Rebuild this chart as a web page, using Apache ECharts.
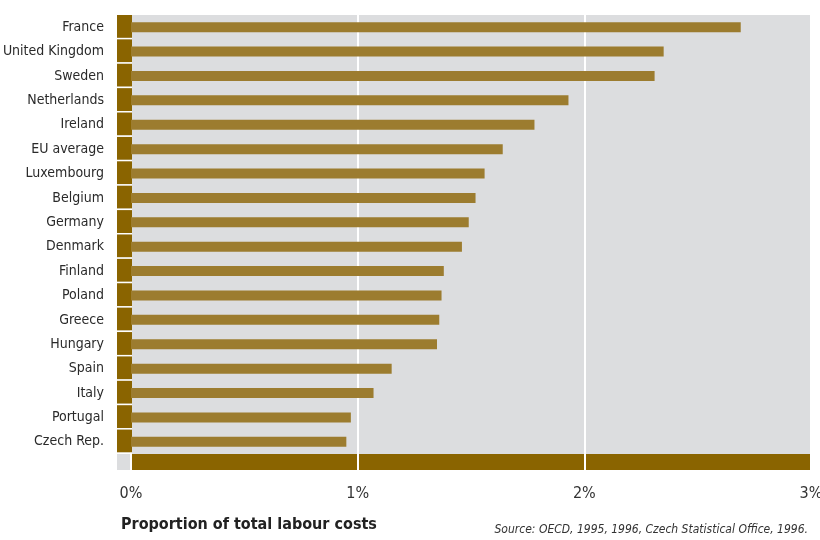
<!DOCTYPE html>
<html>
<head>
<meta charset="utf-8">
<script src="https://cdn.jsdelivr.net/npm/echarts@6/dist/echarts.min.js"></script>
<style>html,body{margin:0;padding:0;background:#fff}#c{width:820px;height:540px}</style>
</head>
<body>
<div id="c"></div>
<script>
const categories = ["France","United Kingdom","Sweden","Netherlands","Ireland","EU average","Luxembourg","Belgium","Germany","Denmark","Finland","Poland","Greece","Hungary","Spain","Italy","Portugal","Czech Rep."];
const values = [2.69,2.35,2.31,1.93,1.78,1.64,1.56,1.52,1.49,1.46,1.38,1.37,1.36,1.35,1.15,1.07,0.97,0.95];
const baseBar = [3];
const xTicks = [0,1,2,3];
const axisTitle = "Proportion of total labour costs";
const sourceText = "Source: OECD, 1995, 1996, Czech Statistical Office, 1996.";

const FONT = "'DejaVu Sans Condensed', 'Liberation Sans', sans-serif";
const BAR = '#9C7C2F', DARK = '#8A6400', GRAY = '#DCDDDF';

const chart = echarts.init(document.getElementById('c'), null, {renderer: 'canvas'});
chart.setOption({
  animation: false,
  backgroundColor: '#ffffff',
  graphic: [{
    type: 'rect', left: 117, top: 15, z: -10,
    shape: {width: 695, height: 455},
    style: {fill: GRAY}
  }],
  title: [{
    text: axisTitle, left: 116, top: 512,
    textStyle: {fontFamily: FONT, fontSize: 16, fontWeight: 'bold', color: '#222'}
  }, {
    text: sourceText, right: 7, top: 519,
    textStyle: {fontFamily: FONT, fontSize: 12, fontStyle: 'italic', fontWeight: 'normal', color: '#333'}
  }],
  grid: [
    {left: 131, right: 9, top: 15, height: 439, containLabel: false, outerBoundsMode: 'none'},
    {left: 131, right: 9, top: 454, height: 16, containLabel: false, outerBoundsMode: 'none'}
  ],
  xAxis: [{
    gridIndex: 0, type: 'value', min: 0, max: 3, interval: 1,
    axisLine: {show: false}, axisTick: {show: false}, axisLabel: {show: false},
    splitLine: {show: true, lineStyle: {color: '#ffffff', width: 2}}
  }, {
    gridIndex: 1, type: 'value', min: xTicks[0], max: xTicks[xTicks.length-1], interval: 1, z: 5,
    axisLine: {show: false}, axisTick: {show: false},
    axisLabel: {formatter: '{value}%', margin: 16, fontFamily: FONT, fontSize: 16, color: '#333'},
    splitLine: {show: true, lineStyle: {color: '#ffffff', width: 2}}
  }],
  yAxis: [{
    gridIndex: 0, type: 'category', data: categories, inverse: true,
    axisLine: {show: false}, axisTick: {show: false},
    axisLabel: {margin: 27, fontFamily: FONT, fontSize: 14, color: '#2a2a2a'}
  }, {
    gridIndex: 1, type: 'category', data: [''],
    axisLine: {show: false}, axisTick: {show: false}, axisLabel: {show: false}
  }],
  series: [{
    type: 'bar', xAxisIndex: 0, yAxisIndex: 0, data: values,
    barWidth: 10, itemStyle: {color: BAR}, z: 3
  }, {
    type: 'custom', xAxisIndex: 0, yAxisIndex: 0, clip: false, z: 3,
    data: categories.map((c, i) => [0, i]),
    encode: {x: 0, y: 1},
    renderItem: function (params, api) {
      const p = api.coord([0, api.value(1)]);
      const h = api.size([0, 1])[1];
      const top = p[1] - h / 2;
      return {
        type: 'group',
        children: [
          {type: 'rect', shape: {x: p[0] - 14, y: top, width: 15, height: h - 1.5}, style: {fill: DARK}},
          {type: 'rect', shape: {x: p[0] - 14, y: top + h - 1.5, width: 15, height: 1.5}, style: {fill: '#ffffff'}}
        ]
      };
    }
  }, {
    type: 'bar', xAxisIndex: 1, yAxisIndex: 1, data: baseBar,
    barWidth: '100%', itemStyle: {color: DARK}, z: 2
  }]
});
</script>
</body>
</html>
